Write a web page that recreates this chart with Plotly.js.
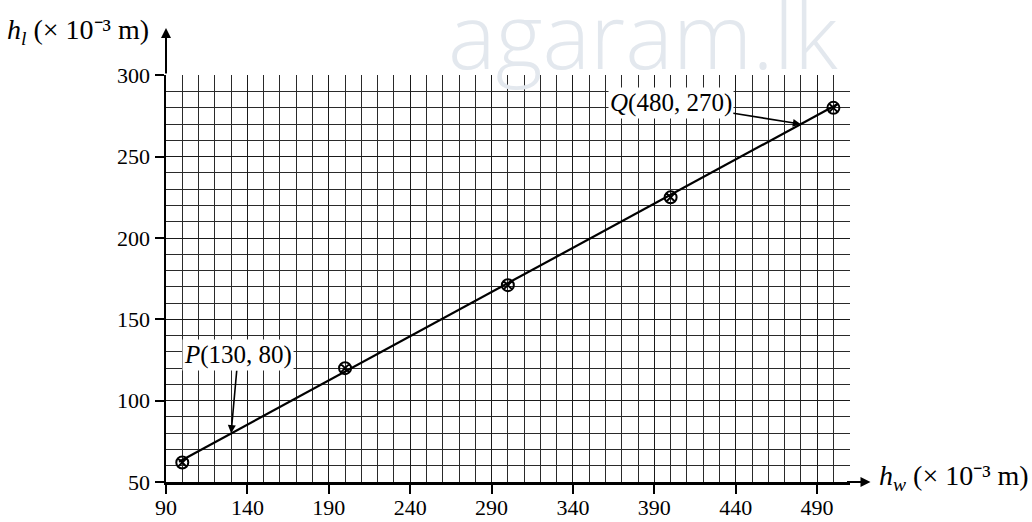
<!DOCTYPE html>
<html>
<head>
<meta charset="utf-8">
<script src="https://cdn.plot.ly/plotly-3.0.1.min.js"></script>
<style>
html,body{margin:0;padding:0;background:#fff;}
#chart{width:1032px;height:522px;}
</style>
</head>
<body>
<div id="chart"></div>
<script>
// measured points
var hw = [100, 200, 300, 400, 500];
var hl = [62, 120, 171, 225, 280];
// best-fit line end points
var fitX = [98, 503];
var fitY = [62.5, 282.5];
// labelled points on the line
var pLabel = {x: 130, y: 80, text: '<i>P</i>(130, 80)'};
var qLabel = {x: 480, y: 270, text: '<i>Q</i>(480, 270)'};
var xTitle = '<i>h</i><sub><i>w</i></sub> (× 10⁻³ m)';
var yTitle = '<i>h</i><sub><i>l</i></sub> (× 10⁻³ m)';
var watermark = 'agaram.lk';

var serif = 'Liberation Serif, Times New Roman, serif';

var traces = [
  {x: fitX, y: fitY, mode: 'lines', line: {color: '#000', width: 2.2}, hoverinfo: 'skip', showlegend: false},
  {x: hw, y: hl, mode: 'markers', marker: {symbol: 'circle-x-open', size: 12, color: '#000', line: {width: 2, color: '#000'}}, showlegend: false}
];

var axisCommon = {
  showline: true, linecolor: '#000', linewidth: 2.5,
  ticks: 'outside', ticklen: 9, tickwidth: 2, tickcolor: '#000',
  showgrid: true, gridcolor: '#1a1a1a', gridwidth: 1,
  zeroline: false,
  tickfont: {family: serif, size: 22, color: '#000'},
  minor: {showgrid: true, gridcolor: '#2a2a2a', gridwidth: 1, ticks: ''},
  fixedrange: true
};

var layout = {
  width: 1032, height: 522,
  margin: {l: 166, r: 182, t: 75, b: 40, pad: 0},
  paper_bgcolor: '#fff', plot_bgcolor: '#fff',
  showlegend: false,
  xaxis: Object.assign({}, axisCommon, {
    range: [90, 510.2], tick0: 90, dtick: 50, ticklabelstandoff: -5,
    minor: Object.assign({}, axisCommon.minor, {tick0: 90, dtick: 10})
  }),
  yaxis: Object.assign({}, axisCommon, {
    range: [50, 300.2], tick0: 50, dtick: 50,
    minor: Object.assign({}, axisCommon.minor, {tick0: 50, dtick: 10})
  }),
  annotations: [
    {text: watermark, xref: 'paper', yref: 'paper', x: 0.697, y: 1.1, xanchor: 'center', yanchor: 'middle',
     showarrow: false, font: {family: 'Open Sans, sans-serif', size: 90, color: '#e3e8ee', weight: 300}},
    // y axis arrow
    {text: '', xref: 'paper', yref: 'paper', x: 0, y: 1.1155, ax: 0, ay: 47, showarrow: true,
     arrowhead: 2, arrowsize: 1, arrowwidth: 2, arrowcolor: '#000'},
    // x axis arrow
    {text: '', xref: 'paper', yref: 'paper', x: 1.03, y: 0, ax: -25, ay: 0, showarrow: true,
     arrowhead: 2, arrowsize: 1, arrowwidth: 2, arrowcolor: '#000'},
    {text: yTitle, xref: 'paper', yref: 'paper', x: -0.2354, y: 1.108, xanchor: 'left', yanchor: 'middle',
     showarrow: false, font: {family: serif, size: 28, color: '#000'}},
    {text: xTitle, xref: 'paper', yref: 'paper', x: 1.0395, y: 0.01, xanchor: 'left', yanchor: 'middle',
     showarrow: false, font: {family: serif, size: 28, color: '#000'}},
    {text: pLabel.text, x: pLabel.x, y: pLabel.y, xref: 'x', yref: 'y', ax: 7, ay: -78,
     showarrow: true, arrowhead: 2, arrowsize: 1, arrowwidth: 1.6, arrowcolor: '#000', bgcolor: '#fff',
     font: {family: serif, size: 25, color: '#000'}},
    {text: qLabel.text, x: qLabel.x, y: qLabel.y, xref: 'x', yref: 'y', ax: -130, ay: -21,
     showarrow: true, arrowhead: 2, arrowsize: 1, arrowwidth: 1.6, arrowcolor: '#000', bgcolor: '#fff',
     font: {family: serif, size: 25, color: '#000'}}
  ]
};

Plotly.newPlot('chart', traces, layout, {displayModeBar: false, staticPlot: true});
</script>
</body>
</html>
